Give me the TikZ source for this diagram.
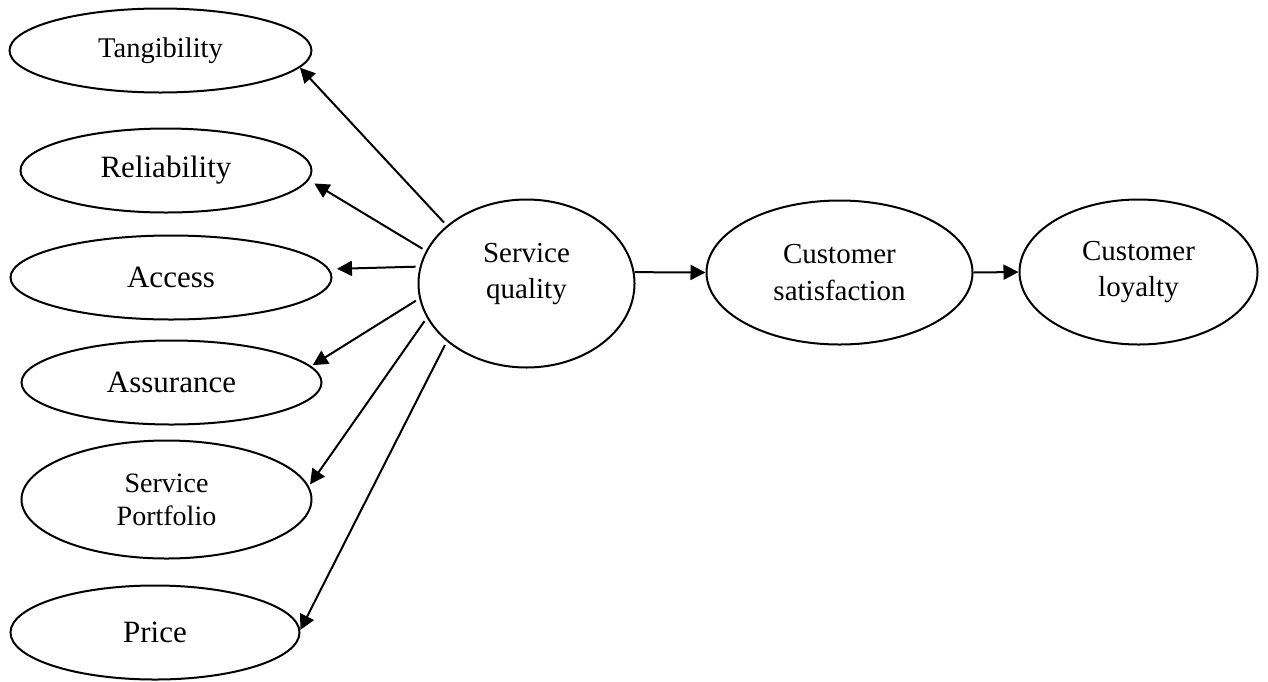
\documentclass[tikz,border=0pt]{standalone}
\usepackage{fontspec}
\setmainfont{Liberation Serif}
\usetikzlibrary{shapes.geometric,arrows.meta}

\tikzset{
  oval/.style={draw=black, line width=2pt, ellipse, inner sep=0pt, align=center},
  link/.style={line width=2pt, -{Triangle[length=15pt, width=15pt]}},
  bigtext/.style={font=\fontsize{31}{37}\selectfont},
  midtext/.style={font=\fontsize{29}{36.5}\selectfont},
  smalltext/.style={font=\fontsize{28}{33}\selectfont},
}

\begin{document}
\begin{tikzpicture}[x=1pt, y=-1pt]
  \useasboundingbox (0,0) rectangle (1268,681);

  % dimensions of service quality (outer sep leaves the gap before each arrow tip)
  \node[oval, outer sep=1pt, minimum width=302pt, minimum height=84pt, font=\fontsize{28.5}{34}\selectfont] (tang) at (160.5,50.5) {Tangibility};
  \node[oval, bigtext, outer sep=8pt, minimum width=291pt, minimum height=84pt] (rel) at (166,170.5) {Reliability};
  \node[oval, bigtext, outer sep=8pt, minimum width=321pt, minimum height=84pt] (acc) at (171,277.5) {Access};
  \node[oval, bigtext, outer sep=3pt, minimum width=300pt, minimum height=84pt] (asr) at (171.5,382.5) {Assurance};
  \node[oval, smalltext, outer sep=3pt, minimum width=290pt, minimum height=118pt] (port) at (166.5,499.5) {Service\\Portfolio};
  \node[oval, bigtext, outer sep=1pt, minimum width=289pt, minimum height=94pt] (price) at (155,632.5) {Price};

  % main chain
  \node[oval, minimum width=216pt, minimum height=168pt] (sq) at (526.5,283.5) {};
  \node[midtext, align=center, inner sep=0pt] (sqlabel) at (526.5,274) {Service\\quality};
  \node[oval, midtext, minimum width=266pt, minimum height=144pt] (cs) at (839.5,272.5) {Customer\\satisfaction};
  \node[oval, midtext, minimum width=238pt, minimum height=145pt] (cl) at (1138.5,272) {Customer\\loyalty};

  % arrows from service quality to its dimensions
  \draw[link, shorten <=4pt] (sq.144) -- (tang.-7.3);
  \draw[link, shorten <=4pt] (sq.162) -- (rel.-5.7);
  \draw[link, shorten <=4pt] (sq.171.6) -- (acc.3.2);
  \draw[link, shorten <=4pt] (sq.-172.9) -- (asr.7.1);
  \draw[link, shorten <=4pt] (sq.-161.4) -- (port.6.6);
  \draw[link, shorten <=4pt] (sq.-144.5) -- (price.1);

  % chain arrows
  \draw[link] (sq.6) -- (cs.west);
  \draw[link] (cs.east) -- (cl.west);
\end{tikzpicture}
\end{document}
